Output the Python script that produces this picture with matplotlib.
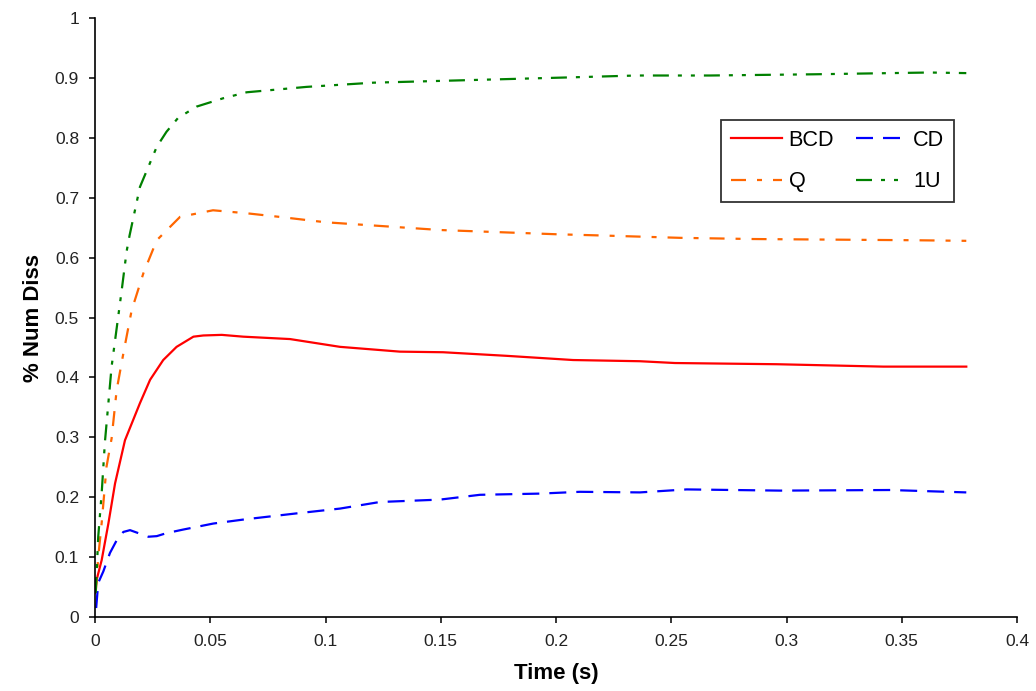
import matplotlib
matplotlib.use("Agg")
import matplotlib.pyplot as plt

plt.rcParams['font.family'] = ['Liberation Sans', 'DejaVu Sans']
plt.rcParams['lines.scale_dashes'] = False

# ---- data ----
bcd_t = [0.0, 0.0007, 0.0029, 0.0058, 0.0087, 0.013, 0.0195, 0.0239, 0.0296, 0.0354,
         0.0427, 0.047, 0.055, 0.0643, 0.0846, 0.1063, 0.1323, 0.151, 0.1786, 0.2074,
         0.2364, 0.2516, 0.2957, 0.342, 0.378]
bcd_y = [0.04, 0.062, 0.095, 0.156, 0.223, 0.295, 0.357, 0.396, 0.429, 0.451,
         0.468, 0.47, 0.471, 0.468, 0.464, 0.451, 0.443, 0.442, 0.436, 0.429,
         0.427, 0.424, 0.422, 0.418, 0.418]

cd_t = [0.0005, 0.0014, 0.0036, 0.0065, 0.0094, 0.0123, 0.0152, 0.0188, 0.0231, 0.0268,
        0.031, 0.0383, 0.0513, 0.065, 0.0875, 0.1063, 0.1236, 0.1497, 0.167, 0.193,
        0.2104, 0.2364, 0.2567, 0.2972, 0.345, 0.378]
cd_y = [0.015, 0.057, 0.076, 0.107, 0.128, 0.142, 0.145, 0.14, 0.134, 0.135,
        0.14, 0.146, 0.156, 0.163, 0.173, 0.181, 0.192, 0.196, 0.204, 0.206,
        0.209, 0.208, 0.213, 0.211, 0.212, 0.208]

q_t = [0.0003, 0.0014, 0.0029, 0.005, 0.0072, 0.0094, 0.0123, 0.0159, 0.021, 0.0268,
       0.0369, 0.0512, 0.0658, 0.08, 0.1, 0.15, 0.2, 0.219, 0.2538, 0.2856, 0.355, 0.378]
q_y = [0.04, 0.1, 0.157, 0.251, 0.298, 0.379, 0.44, 0.512, 0.574, 0.629,
       0.668, 0.679, 0.674, 0.668, 0.659, 0.646, 0.639, 0.637, 0.633, 0.631, 0.629, 0.628]

u1_t = [0.0003, 0.0007, 0.0014, 0.0029, 0.0043, 0.0058, 0.0072, 0.0094, 0.0116, 0.0137,
        0.015, 0.0195, 0.0268, 0.031, 0.036, 0.044, 0.0556, 0.0658, 0.0918, 0.1206,
        0.1497, 0.1786, 0.2074, 0.235, 0.2668, 0.3115, 0.362, 0.378]
u1_y = [0.04, 0.073, 0.134, 0.207, 0.292, 0.357, 0.418, 0.482, 0.546, 0.61,
        0.637, 0.718, 0.785, 0.81, 0.833, 0.852, 0.866, 0.876, 0.885, 0.892,
        0.895, 0.898, 0.901, 0.904, 0.904, 0.906, 0.909, 0.908]

x_ticks = [0, 0.05, 0.1, 0.15, 0.2, 0.25, 0.3, 0.35, 0.4]
x_tick_labels = ["0", "0.05", "0.1", "0.15", "0.2", "0.25", "0.3", "0.35", "0.4"]
y_ticks = [0, 0.1, 0.2, 0.3, 0.4, 0.5, 0.6, 0.7, 0.8, 0.9, 1.0]
y_tick_labels = ["0", "0.1", "0.2", "0.3", "0.4", "0.5", "0.6", "0.7", "0.8", "0.9", "1"]

# ---- figure ----
fig = plt.figure(figsize=(10.36, 6.91), dpi=100)
ax = fig.add_axes([95/1036, 1 - 617/691, 922/1036, 599/691])

px = 0.72  # points per pixel at 100 dpi
lw = 1.6
ax.plot(bcd_t, bcd_y, color='#ff0000', lw=lw, label='BCD')
ax.plot(q_t, q_y, color='#ff6600', lw=lw, label='Q',
        dashes=[15*px, 11*px, 5*px, 11*px])
ax.plot(cd_t, cd_y, color='#0000ff', lw=lw, label='CD',
        dashes=[17*px, 10*px])
ax.plot(u1_t, u1_y, color='#008000', lw=lw, label='1U',
        dashes=[16*px, 9*px, 4*px, 9*px, 4*px, 9*px])

ax.set_xlim(0, 0.4)
ax.set_ylim(0, 1)
ax.set_xticks(x_ticks)
ax.set_xticklabels(x_tick_labels)
ax.set_yticks(y_ticks)
ax.set_yticklabels(y_tick_labels)

for s in ['top', 'right']:
    ax.spines[s].set_visible(False)
for s in ['left', 'bottom']:
    ax.spines[s].set_linewidth(1.2)
    ax.spines[s].set_color('black')

ax.tick_params(axis='both', direction='out', length=4.5, width=1.1,
               labelsize=12.5, labelcolor='#222222')
ax.tick_params(axis='x', pad=8)
ax.tick_params(axis='y', pad=7)

ax.set_xlabel('Time (s)', fontsize=16, fontweight='bold')
ax.set_ylabel('% Num Diss', fontsize=16, fontweight='bold')
ax.xaxis.set_label_coords(0.5, -0.077)
ax.yaxis.set_label_coords(-0.055, 0.5)

leg = ax.legend(ncol=2, loc='upper right', bbox_to_anchor=(0.9317, 0.8297),
                fontsize=15.6, frameon=True, fancybox=False, shadow=False,
                handlelength=2.34, handletextpad=0.3, columnspacing=1.0,
                labelspacing=0.93, borderpad=0.46, borderaxespad=0.0)
leg.get_frame().set_edgecolor('#333333')
leg.get_frame().set_linewidth(1.3)
leg.get_frame().set_facecolor('white')
leg.get_frame().set_alpha(1.0)

fig.savefig('out.png', dpi=100)
